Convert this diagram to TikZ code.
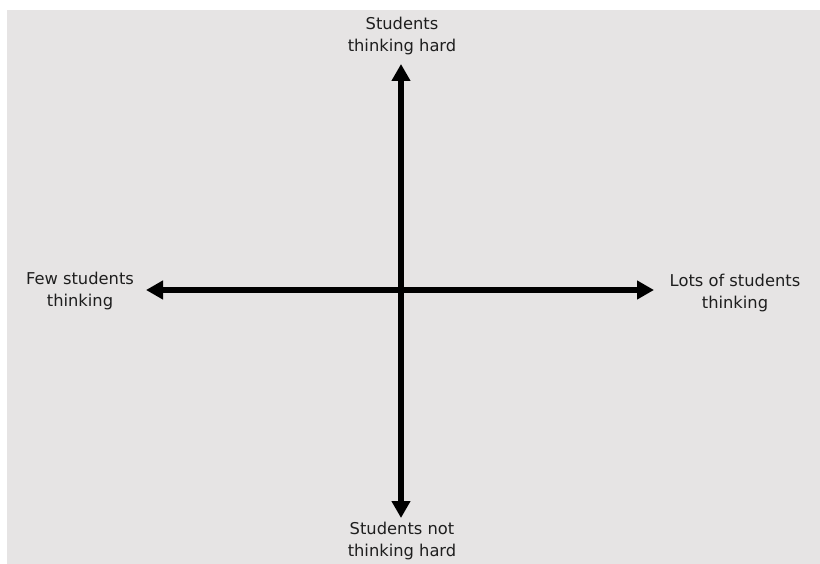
\documentclass[tikz,border=0pt]{standalone}
\usepackage{fontspec}
\setmainfont{DejaVu Sans}
\usetikzlibrary{arrows.meta}
\definecolor{panel}{RGB}{230,228,228}
\definecolor{ink}{RGB}{30,30,30}
\begin{document}
\begin{tikzpicture}[x=1pt,y=-1pt,
  axis/.style={line width=5.5pt,{Triangle[width=18pt,length=17pt]}-{Triangle[width=18pt,length=17pt]}},
  lbl/.style={align=center,font=\fontsize{16.3}{22}\selectfont,text=ink,inner sep=0pt}]
  \useasboundingbox (0,0) rectangle (820,564);
  \fill[white] (0,0) rectangle (820,564);
  \fill[panel] (7,10) rectangle (820,564);
  % axis end points
  \coordinate (N) at (401,64);
  \coordinate (S) at (401,518);
  \coordinate (W) at (146,290);
  \coordinate (E) at (654,290);
  \draw[axis] (S) -- (N);
  \draw[axis] (W) -- (E);
  % labels
  \node[lbl] (top) at (402,36) {Students\\thinking hard};
  \node[lbl] (bot) at (402,541) {Students not\\thinking hard};
  \node[lbl] (lft) at (80,291) {Few students\\thinking};
  \node[lbl] (rgt) at (735,293) {Lots of students\\thinking};
\end{tikzpicture}
\end{document}
